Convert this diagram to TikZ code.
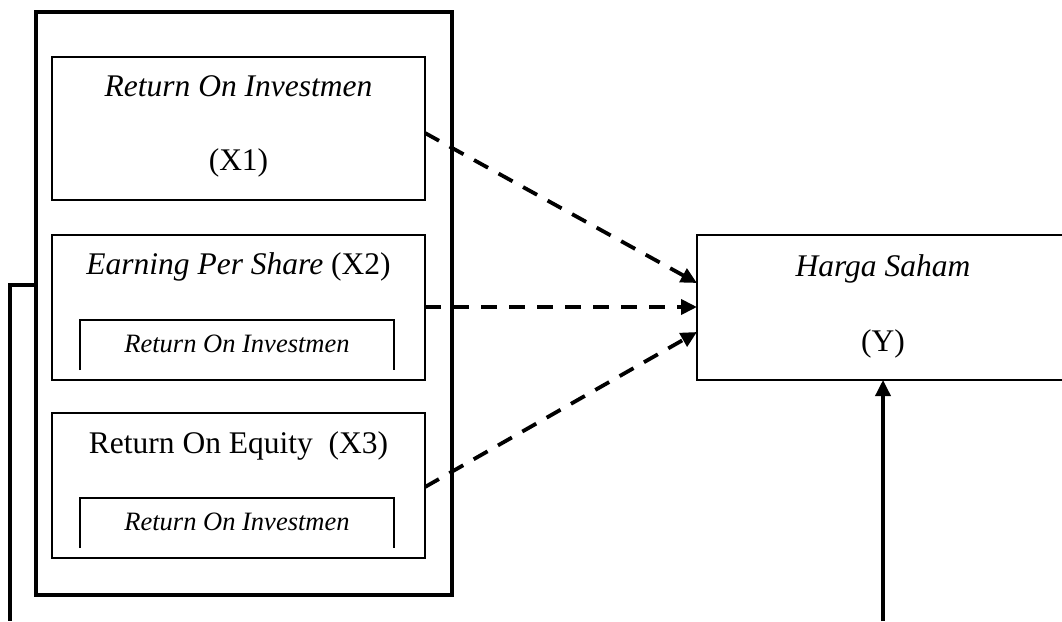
\documentclass[tikz,border=0pt]{standalone}
\usepackage{fontspec}
\setmainfont{Liberation Serif}
\usetikzlibrary{arrows.meta}
\begin{document}
\begin{tikzpicture}[x=1pt,y=-1pt,
  bigtxt/.style={font=\fontsize{31.5}{36}\selectfont, inner sep=0pt, anchor=base},
  smalltxt/.style={font=\fontsize{26.5}{30}\selectfont\itshape, inner sep=0pt, anchor=base},
  varbox/.style={draw, line width=1.8pt},
  outerbox/.style={draw, line width=3.8pt},
  openbox/.style={line width=1.2pt},
  dasharrow/.style={line width=3.8pt, dash pattern=on 16pt off 12pt, -{Triangle[length=16pt,width=15pt]}},
  solidline/.style={line width=3.8pt},
  solidarrow/.style={line width=3.5pt, -{Triangle[length=16pt,width=15pt]}}
]
\useasboundingbox (0,0) rectangle (1062,621);
% outer frame
\draw[outerbox] (36,12) rectangle (452,595);
\coordinate (outerW) at (36,285);
% variable boxes
\draw[varbox] (52,57) rectangle (425,200);
\draw[varbox] (52,235) rectangle (425,380);
\draw[varbox] (52,413) rectangle (425,558);
\coordinate (b1E) at (425,133);
\coordinate (b2E) at (425,307);
\coordinate (b3E) at (425,487);
% open inner boxes
\draw[openbox] (80,370) -- (80,320) -- (394,320) -- (394,370);
\draw[openbox] (80,548) -- (80,498) -- (394,498) -- (394,548);
% texts
\node[bigtxt] (t1) at (238.5,96) {\itshape Return On Investmen};
\node[bigtxt] (t1b) at (238.5,170) {(X1)};
\node[bigtxt] (t2) at (238.5,274) {\textit{Earning Per Share} (X2)};
\node[smalltxt] (t2b) at (237,352) {Return On Investmen};
\node[bigtxt] (t3) at (238.5,453) {Return On Equity\ \ (X3)};
\node[smalltxt] (t3b) at (237,530) {Return On Investmen};
% Y box
\draw[varbox] (697,235) rectangle (1069,380);
\coordinate (yW1) at (697,283);
\coordinate (yW2) at (697,307);
\coordinate (yW3) at (697,332);
\coordinate (yS) at (883,380);
\node[bigtxt] (ty) at (883,276) {\itshape Harga Saham};
\node[bigtxt] (tyb) at (883,351) {(Y)};
% arrows
\draw[dasharrow] (b1E) -- (yW1);
\draw[dasharrow] (b2E) -- (yW2);
\draw[dasharrow] (b3E) -- (yW3);
\coordinate (bottomR) at (883,621);
\draw[solidarrow] (bottomR) -- (yS);
\coordinate (bottomL) at (10,621);
\draw[solidline] (outerW) -- (10,285) -- (bottomL);
\end{tikzpicture}
\end{document}
